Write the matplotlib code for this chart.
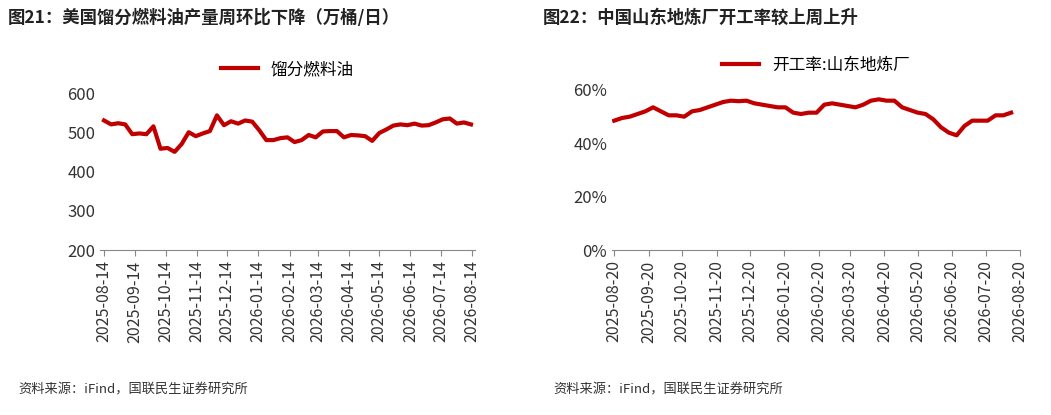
import matplotlib
matplotlib.use("Agg")
import matplotlib.pyplot as plt
import pandas as pd
import numpy as np

plt.rcParams['font.family'] = ['Noto Sans CJK SC', 'DejaVu Sans']

left_vals = [530, 520, 523, 520, 495, 497, 495, 515, 458, 460, 450, 470, 500, 490, 497, 503, 543,
             518, 528, 522, 530, 527, 505, 480, 480, 485, 487, 475, 480, 493, 487, 502, 503, 503,
             487, 493, 492, 490, 478, 498, 507, 517, 520, 518, 522, 517, 518, 525, 533, 535, 522,
             525, 520]
right_vals = [48.5, 49.5, 50, 51, 52, 53.5, 52, 50.5, 50.5, 50, 52, 52.5, 53.5, 54.5, 55.5, 56,
              55.8, 56, 55, 54.5, 54, 53.5, 53.5, 51.5, 51, 51.5, 51.5, 54.5, 55, 54.5, 54, 53.5,
              54.5, 56, 56.5, 56, 56, 53.5, 52.5, 51.5, 51, 49, 46, 44, 43, 46.5, 48.5, 48.5,
              48.5, 50.5, 50.5, 51.5]
left_dates = pd.date_range("2025-08-14", periods=len(left_vals), freq="7D")
right_dates = pd.date_range("2025-08-20", periods=len(right_vals), freq="7D")
left_ticks = pd.date_range("2025-08-01", "2026-08-01", freq="MS") + pd.Timedelta(days=13)
right_ticks = pd.date_range("2025-08-01", "2026-08-01", freq="MS") + pd.Timedelta(days=19)

titles = ["图21：美国馏分燃料油产量周环比下降（万桶/日）", "图22：中国山东地炼厂开工率较上周上升"]
legends = ["馏分燃料油", "开工率:山东地炼厂"]
source = "资料来源：iFind，国联民生证券研究所"
red = "#C00000"

fig = plt.figure(figsize=(10.51, 4.15), dpi=100)
W, H = 1051, 415
axes_rects = [(100, 93, 475, 250), (612, 90, 1020, 250)]
for i in range(2):
    x0 = 0 if i == 0 else 535
    fig.text((x0 + 8) / W, 1 - 18 / H, titles[i], fontsize=12.5, fontweight='bold', va='center', color='#222222')
    fig.text((x0 + 18) / W, 1 - 390 / H, source, fontsize=9.5, va='center', color='#333333')

    l, t, r, b = axes_rects[i]
    ax = fig.add_axes([l / W, 1 - b / H, (r - l) / W, (b - t) / H])
    if i == 0:
        ax.plot(left_dates, left_vals, color=red, lw=3, label=legends[0])
        ax.set_ylim(200, 600)
        ax.set_yticks([200, 300, 400, 500, 600])
        ticks = left_ticks
        ax.set_xlim(left_dates[0] - pd.Timedelta(days=4), left_dates[-1] + pd.Timedelta(days=4))
    else:
        ax.plot(right_dates, right_vals, color=red, lw=3, label=legends[1])
        ax.set_ylim(0, 60)
        ax.set_yticks([0, 20, 40, 60])
        ax.set_yticklabels([f"{v}%" for v in [0, 20, 40, 60]])
        ticks = right_ticks
        ax.set_xlim(right_dates[0] - pd.Timedelta(days=2), right_dates[-1] + pd.Timedelta(days=4))
    ax.set_xticks(ticks)
    ax.set_xticklabels([d.strftime("%Y-%m-%d") for d in ticks], rotation=90, fontsize=11.5, color='#333333')
    ax.tick_params(axis='y', labelsize=12, length=0, labelcolor='#333333')
    ax.tick_params(axis='x', length=4, direction='out', color='#888888')
    for s in ['top', 'right', 'left']:
        ax.spines[s].set_visible(False)
    ax.spines['bottom'].set_color('#888888')
    ax.legend(loc='upper center', bbox_to_anchor=(0.5, 1.3), frameon=False, fontsize=12, handlelength=2.2)

fig.savefig("out.png", dpi=100)
